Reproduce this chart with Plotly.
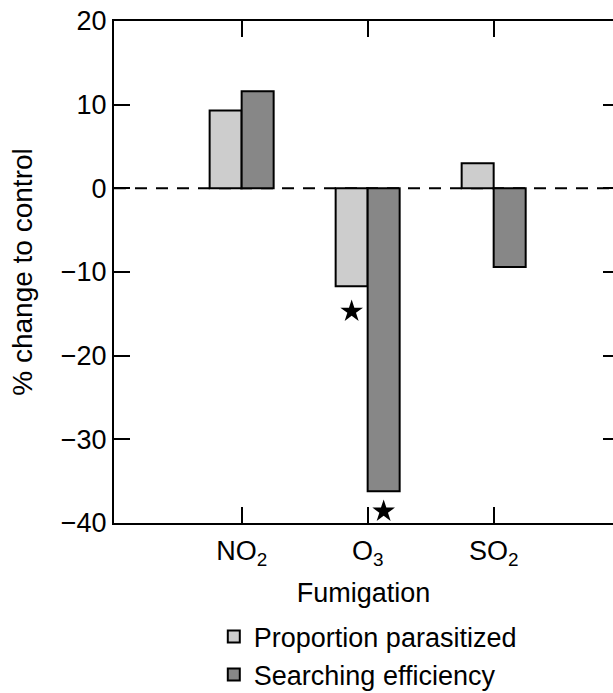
import plotly.graph_objects as go

# ---- data ----
categories = ["NO<sub>2</sub>", "O<sub>3</sub>", "SO<sub>2</sub>"]
proportion_parasitized = [9.3, -11.7, 3.0]
searching_efficiency = [11.6, -36.2, -9.4]
# significance stars (y position of the star under the bar), None = no star
star_proportion = [None, -14.7, None]
star_searching = [None, -38.6, None]
y_ticks = [-40, -30, -20, -10, 0, 10, 20]

positions = list(range(len(categories)))
BAR_W = 0.254
FONT = "Liberation Sans, Arial, Helvetica, sans-serif"
FS = 27

fig = go.Figure()
fig.add_trace(go.Bar(
    x=positions, y=proportion_parasitized, name="Proportion parasitized",
    width=BAR_W, offset=-BAR_W,
    marker=dict(color="#cdcdcd", line=dict(color="black", width=2)),
))
fig.add_trace(go.Bar(
    x=positions, y=searching_efficiency, name="Searching efficiency",
    width=BAR_W, offset=0,
    marker=dict(color="#878787", line=dict(color="black", width=2)),
))
fig.add_trace(go.Scatter(
    x=[p - BAR_W / 2 for p in positions], y=star_proportion, mode="markers",
    marker=dict(symbol="star", size=17, color="black"), showlegend=False,
    yaxis="y2",
))
fig.add_trace(go.Scatter(
    x=[p + BAR_W / 2 for p in positions], y=star_searching, mode="markers",
    marker=dict(symbol="star", size=17, color="black"), showlegend=False,
    yaxis="y2",
))

# dashed zero line
fig.add_shape(type="line", xref="paper", x0=0, x1=1, yref="y", y0=0, y1=0,
              line=dict(color="black", width=2, dash="12px,9px"), layer="below")

fig.update_layout(
    width=613, height=693,
    margin=dict(l=114, r=0, t=21, b=170, autoexpand=False),
    plot_bgcolor="white", paper_bgcolor="white",
    font=dict(family=FONT, size=FS, color="black"),
    barmode="overlay",
    showlegend=True,
    legend=dict(x=0.2, xanchor="left", y=-0.178, yanchor="top",
                font=dict(size=FS), bgcolor="rgba(0,0,0,0)",
                tracegroupgap=0, traceorder="normal"),
    xaxis=dict(
        range=[-1.013, 2.947], tickmode="array", tickvals=positions,
        ticktext=categories, ticks="inside", ticklen=16, tickwidth=2,
        tickcolor="black", showline=True, linecolor="black", linewidth=2,
        mirror="ticks", showgrid=False, zeroline=False, ticklabelstandoff=3,
        title=dict(text="Fumigation", font=dict(size=FS), standoff=14),
    ),
    yaxis=dict(
        range=[-40, 20], tickmode="array", tickvals=y_ticks,
        ticks="inside", ticklen=16, tickwidth=2, tickcolor="black",
        showline=True, linecolor="black", linewidth=2, mirror=False,
        showgrid=False, zeroline=False,
        title=dict(text="% change to control", font=dict(size=28), standoff=20),
    ),
    yaxis2=dict(
        range=[-40, 20], overlaying="y", side="right", tickmode="array",
        tickvals=y_ticks, ticks="inside", ticklen=10, tickwidth=2,
        tickcolor="black", showticklabels=False, showline=False,
        showgrid=False, zeroline=False,
    ),
)

fig.write_html("out.html")
